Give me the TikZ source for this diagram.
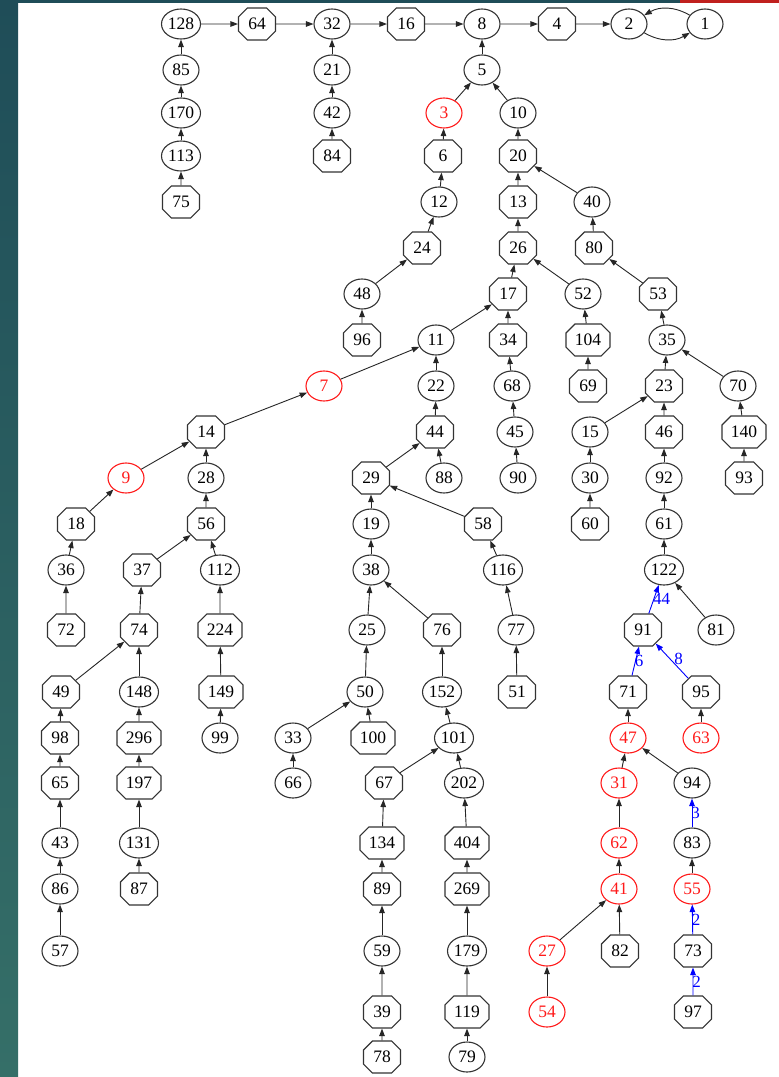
\documentclass[tikz,border=0pt]{standalone}
\usepackage{fontspec}
\setmainfont{Liberation Serif}
\usetikzlibrary{arrows.meta,shapes.geometric,shapes.misc}
\definecolor{tealA}{HTML}{1F4D58}
\definecolor{tealB}{HTML}{356F68}
\definecolor{barred}{HTML}{C0201E}
\definecolor{hotred}{HTML}{FF1A1A}
\begin{document}
\begin{tikzpicture}[x=1pt,y=1pt,
  base/.style={draw=black!80, line width=1.1pt, text=black, inner sep=0pt, font=\fontsize{17.5}{20}\selectfont},
  el/.style={base, ellipse, minimum width=36pt, minimum height=30pt},
  elw/.style={el, minimum width=39pt},
  oc/.style={base, chamfered rectangle, chamfered rectangle xsep=9.5pt, minimum width=37pt, minimum height=32pt},
  ocw/.style={oc, minimum width=44pt},
  hot/.style={draw=hotred, text=hotred},
  arr/.style={-{Triangle[length=7.5pt,width=5.5pt]}, line width=0.9pt, draw=black!85},
  barr/.style={arr, draw=blue},
  lab/.style={text=blue, inner sep=0pt, font=\fontsize{17}{20}\selectfont}]
\useasboundingbox (0,0) rectangle (779,-1077);
\fill[white] (0,0) rectangle (779,-1077);
\shade[top color=tealA, bottom color=tealB] (0,0) rectangle (18,-1077);
\fill[tealA] (0,0) rectangle (680,-3);
\fill[barred] (680,0) rectangle (779,-3);
% row 24
\node[elw] (n128) at (181,-24) {128};
\node[oc] (n64) at (257,-24) {64};
\node[el] (n32) at (332,-24) {32};
\node[oc] (n16) at (406,-24) {16};
\node[el] (n8) at (482,-24) {8};
\node[oc] (n4) at (557,-24) {4};
\node[el] (n2) at (629,-24) {2};
\node[el] (n1) at (705,-24) {1};
% row 70
\node[el] (n85) at (181,-70) {85};
\node[el] (n21) at (332,-70) {21};
\node[el] (n5) at (482,-70) {5};
% row 113
\node[elw] (n170) at (181,-113) {170};
\node[el] (n42) at (332,-113) {42};
\node[el,hot] (n3) at (444,-113) {3};
\node[el] (n10) at (518,-113) {10};
% row 156
\node[elw] (n113) at (181,-156) {113};
\node[oc] (n84) at (332,-156) {84};
\node[oc] (n6) at (443,-156) {6};
\node[oc] (n20) at (518,-156) {20};
% row 202
\node[oc] (n75) at (181,-202) {75};
\node[el] (n12) at (439,-202) {12};
\node[oc] (n13) at (518,-202) {13};
\node[el] (n40) at (592,-202) {40};
% row 248
\node[oc] (n24) at (422,-248) {24};
\node[oc] (n26) at (518,-248) {26};
\node[oc] (n80) at (594,-248) {80};
% row 294
\node[el] (n48) at (362,-294) {48};
\node[oc] (n17) at (508,-294) {17};
\node[el] (n52) at (583,-294) {52};
\node[oc] (n53) at (658,-294) {53};
% row 340
\node[oc] (n96) at (362,-340) {96};
\node[el] (n11) at (436,-340) {11};
\node[oc] (n34) at (508,-340) {34};
\node[ocw] (n104) at (588,-340) {104};
\node[el] (n35) at (667,-340) {35};
% row 386
\node[el,hot] (n7) at (324,-386) {7};
\node[el] (n22) at (436,-386) {22};
\node[el] (n68) at (512,-386) {68};
\node[oc] (n69) at (588,-386) {69};
\node[oc] (n23) at (664,-386) {23};
\node[el] (n70) at (738,-386) {70};
% row 432
\node[oc] (n14) at (206,-432) {14};
\node[oc] (n44) at (435,-432) {44};
\node[el] (n45) at (515,-432) {45};
\node[el] (n15) at (590,-432) {15};
\node[oc] (n46) at (664,-432) {46};
\node[ocw] (n140) at (744,-432) {140};
% row 478
\node[el,hot] (n9) at (126,-478) {9};
\node[el] (n28) at (206,-478) {28};
\node[oc] (n29) at (371,-478) {29};
\node[el] (n88) at (444,-478) {88};
\node[el] (n90) at (518,-478) {90};
\node[el] (n30) at (590,-478) {30};
\node[el] (n92) at (664,-478) {92};
\node[oc] (n93) at (744,-478) {93};
% row 524
\node[oc] (n18) at (76,-524) {18};
\node[oc] (n56) at (206,-524) {56};
\node[el] (n19) at (371,-524) {19};
\node[oc] (n58) at (483,-524) {58};
\node[oc] (n60) at (590,-524) {60};
\node[el] (n61) at (664,-524) {61};
% row 570
\node[el] (n36) at (66,-570) {36};
\node[oc] (n37) at (142,-570) {37};
\node[elw] (n112) at (220,-570) {112};
\node[el] (n38) at (371,-570) {38};
\node[elw] (n116) at (503,-570) {116};
\node[elw] (n122) at (664,-570) {122};
% row 630
\node[oc] (n72) at (66,-630) {72};
\node[oc] (n74) at (139,-630) {74};
\node[ocw] (n224) at (220,-630) {224};
\node[el] (n25) at (367,-630) {25};
\node[oc] (n76) at (442,-630) {76};
\node[el] (n77) at (516,-630) {77};
\node[oc] (n91) at (643,-630) {91};
\node[el] (n81) at (716,-630) {81};
% row 692
\node[oc] (n49) at (61,-692) {49};
\node[elw] (n148) at (139,-692) {148};
\node[ocw] (n149) at (221,-692) {149};
\node[el] (n50) at (365,-692) {50};
\node[elw] (n152) at (442,-692) {152};
\node[oc] (n51) at (517,-692) {51};
\node[oc] (n71) at (628,-692) {71};
\node[oc] (n95) at (701,-692) {95};
% row 738
\node[oc] (n98) at (60,-738) {98};
\node[ocw] (n296) at (139,-738) {296};
\node[el] (n99) at (220,-738) {99};
\node[el] (n33) at (293,-738) {33};
\node[ocw] (n100) at (373,-738) {100};
\node[elw] (n101) at (454,-738) {101};
\node[el,hot] (n47) at (628,-738) {47};
\node[el,hot] (n63) at (701,-738) {63};
% row 783
\node[oc] (n65) at (60,-783) {65};
\node[ocw] (n197) at (139,-783) {197};
\node[el] (n66) at (293,-783) {66};
\node[oc] (n67) at (384,-783) {67};
\node[elw] (n202) at (464,-783) {202};
\node[el,hot] (n31) at (619,-783) {31};
\node[el] (n94) at (692,-783) {94};
% row 843
\node[el] (n43) at (60,-843) {43};
\node[elw] (n131) at (139,-843) {131};
\node[ocw] (n134) at (382,-843) {134};
\node[ocw] (n404) at (467,-843) {404};
\node[el,hot] (n62) at (619,-843) {62};
\node[el] (n83) at (692,-843) {83};
% row 889
\node[el] (n86) at (60,-889) {86};
\node[oc] (n87) at (139,-889) {87};
\node[oc] (n89) at (382,-889) {89};
\node[ocw] (n269) at (467,-889) {269};
\node[el,hot] (n41) at (619,-889) {41};
\node[el,hot] (n55) at (692,-889) {55};
% row 951
\node[el] (n57) at (60,-951) {57};
\node[el] (n59) at (382,-951) {59};
\node[elw] (n179) at (467,-951) {179};
\node[el,hot] (n27) at (547,-951) {27};
\node[oc] (n82) at (620,-951) {82};
\node[oc] (n73) at (693,-951) {73};
% row 1012
\node[oc] (n39) at (382,-1012) {39};
\node[ocw] (n119) at (467,-1012) {119};
\node[el,hot] (n54) at (547,-1012) {54};
\node[oc] (n97) at (693,-1012) {97};
% row 1057
\node[oc] (n78) at (382,-1057) {78};
\node[el] (n79) at (467,-1057) {79};
% edges
\foreach \a/\b in {128/64, 64/32, 32/16, 16/8, 8/4, 4/2,
  85/128, 170/85, 113/170, 75/113, 21/32, 42/21, 84/42,
  5/8, 3/5, 10/5, 6/3, 12/6, 24/12, 48/24, 96/48,
  20/10, 13/20, 40/20, 26/13, 80/40, 17/26, 52/26, 53/80,
  11/17, 34/17, 104/52, 35/53,
  7/11, 22/11, 68/34, 69/104, 23/35, 70/35,
  14/7, 44/22, 45/68, 15/23, 46/23, 140/70,
  9/14, 28/14, 29/44, 88/44, 90/45, 30/15, 92/46, 93/140,
  18/9, 56/28, 19/29, 58/29, 60/30, 61/92,
  36/18, 37/56, 112/56, 38/19, 116/58, 122/61,
  72/36, 74/37, 224/112, 25/38, 76/38, 77/116, 81/122,
  49/74, 148/74, 149/224, 50/25, 152/76, 51/77,
  98/49, 296/148, 99/149, 33/50, 100/50, 101/152, 47/71, 63/95,
  65/98, 197/296, 66/33, 67/101, 202/101, 31/47, 94/47,
  43/65, 131/197, 134/67, 404/202, 62/31,
  86/43, 87/131, 89/134, 269/404, 41/62, 55/83,
  57/86, 59/89, 179/269, 27/41, 82/41,
  39/59, 119/179, 54/27, 78/39, 79/119}
  \draw[arr] (n\a) -- (n\b);
\draw[arr] (n2) to[bend right=30] (n1);
\draw[arr] (n1) to[bend right=30] (n2);
% weighted edges
\draw[barr] (n91) -- node[lab, anchor=west, xshift=-1pt] {44} (n122);
\draw[barr] (n71) -- node[lab, anchor=west, xshift=-1pt] {6} (n91);
\draw[barr] (n95) -- node[lab, anchor=west, xshift=2pt, yshift=2pt] {8} (n91);
\draw[barr] (n83) -- node[lab, anchor=west, xshift=-1pt] {3} (n94);
\draw[barr] (n73) -- node[lab, anchor=west, xshift=-1pt] {2} (n55);
\draw[barr] (n97) -- node[lab, anchor=west, xshift=-1pt] {2} (n73);
\end{tikzpicture}
\end{document}
